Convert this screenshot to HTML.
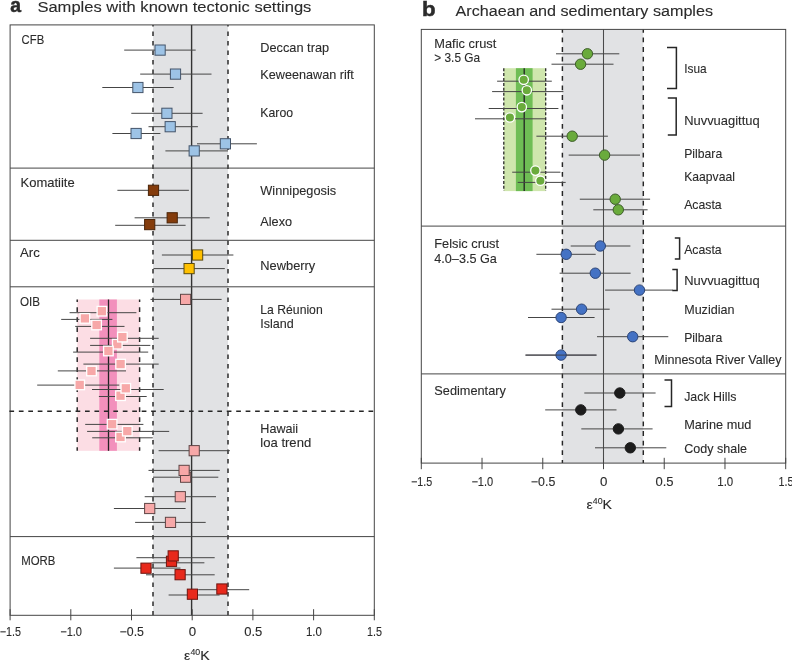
<!DOCTYPE html>
<html lang="en"><head><meta charset="utf-8"><title>Figure</title>
<style>
html,body{margin:0;padding:0;background:#fff;}
body{width:792px;height:661px;overflow:hidden;}
svg{display:block;font-family:"Liberation Sans",sans-serif;fill:#2b2b2b;}
</style></head><body>
<svg width="792" height="661" viewBox="0 0 792 661">
<rect width="792" height="661" fill="#ffffff"/>
<rect x="153" y="24.9" width="75" height="590.4" fill="#e1e2e4"/>
<rect x="77.2" y="299.5" width="62.4" height="151.3" fill="#fcdde4"/>
<rect x="99.3" y="299.5" width="17.6" height="151.3" fill="#f290bc"/>
<line x1="108.5" y1="299.5" x2="108.5" y2="450.8" stroke="#222" stroke-width="1.3"/>
<line x1="77.2" y1="299.5" x2="77.2" y2="450.8" stroke="#262626" stroke-width="1.45" stroke-dasharray="4.7 5.3" stroke-dashoffset="2.3"/>
<line x1="139.6" y1="299.5" x2="139.6" y2="450.8" stroke="#262626" stroke-width="1.45" stroke-dasharray="4.7 5.3" stroke-dashoffset="2.3"/>
<line x1="153" y1="24.9" x2="153" y2="615.3" stroke="#262626" stroke-width="1.45" stroke-dasharray="4.7 4.8" stroke-dashoffset="3"/>
<line x1="228" y1="24.9" x2="228" y2="615.3" stroke="#262626" stroke-width="1.45" stroke-dasharray="4.7 4.8" stroke-dashoffset="3"/>
<line x1="191.6" y1="24.9" x2="191.6" y2="615.3" stroke="#333" stroke-width="1.4"/>
<rect x="10.1" y="24.9" width="364.2" height="590.4" fill="none" stroke="#454545" stroke-width="1"/>
<line x1="10.1" y1="168.1" x2="374.3" y2="168.1" stroke="#454545" stroke-width="1"/>
<line x1="10.1" y1="240.3" x2="374.3" y2="240.3" stroke="#454545" stroke-width="1"/>
<line x1="10.1" y1="286.8" x2="374.3" y2="286.8" stroke="#454545" stroke-width="1"/>
<line x1="10.1" y1="536.6" x2="374.3" y2="536.6" stroke="#454545" stroke-width="1"/>
<line x1="9.4" y1="411.3" x2="374.3" y2="411.3" stroke="#262626" stroke-width="1.45" stroke-dasharray="4.7 4.75"/>
<line x1="10.1" y1="609.2" x2="10.1" y2="620.3" stroke="#454545" stroke-width="1"/>
<text x="-0.2" y="636.2" font-size="12.2" text-anchor="start" stroke="#2b2b2b" stroke-width="0.1" textLength="21.2" lengthAdjust="spacingAndGlyphs">−1.5</text>
<line x1="70.8" y1="609.2" x2="70.8" y2="620.3" stroke="#454545" stroke-width="1"/>
<text x="60.2" y="636.2" font-size="12.2" text-anchor="start" stroke="#2b2b2b" stroke-width="0.1" textLength="21.8" lengthAdjust="spacingAndGlyphs">−1.0</text>
<line x1="131.5" y1="609.2" x2="131.5" y2="620.3" stroke="#454545" stroke-width="1"/>
<text x="119.6" y="636.2" font-size="12.2" text-anchor="start" stroke="#2b2b2b" stroke-width="0.1" textLength="24.4" lengthAdjust="spacingAndGlyphs">−0.5</text>
<line x1="192.2" y1="609.2" x2="192.2" y2="620.3" stroke="#454545" stroke-width="1"/>
<text x="188.8" y="636.2" font-size="12.2" text-anchor="start" stroke="#2b2b2b" stroke-width="0.1" textLength="7.4" lengthAdjust="spacingAndGlyphs">0</text>
<line x1="252.9" y1="609.2" x2="252.9" y2="620.3" stroke="#454545" stroke-width="1"/>
<text x="244.15" y="636.2" font-size="12.2" text-anchor="start" stroke="#2b2b2b" stroke-width="0.1" textLength="18.1" lengthAdjust="spacingAndGlyphs">0.5</text>
<line x1="313.6" y1="609.2" x2="313.6" y2="620.3" stroke="#454545" stroke-width="1"/>
<text x="305.9" y="636.2" font-size="12.2" text-anchor="start" stroke="#2b2b2b" stroke-width="0.1" textLength="16" lengthAdjust="spacingAndGlyphs">1.0</text>
<line x1="374.3" y1="609.2" x2="374.3" y2="620.3" stroke="#454545" stroke-width="1"/>
<text x="367.1" y="636.2" font-size="12.2" text-anchor="start" stroke="#2b2b2b" stroke-width="0.1" textLength="15" lengthAdjust="spacingAndGlyphs">1.5</text>
<text x="184.1" y="659.7" font-size="13.2" text-anchor="start" stroke="#2b2b2b" stroke-width="0.1" textLength="25.6" lengthAdjust="spacingAndGlyphs">ε<tspan font-size="8.2" dy="-4.3">40</tspan><tspan dy="4.3">K</tspan></text>
<line x1="124.2" y1="50.1" x2="195.7" y2="50.1" stroke="#454545" stroke-width="1.0"/>
<line x1="140.2" y1="74.1" x2="211.5" y2="74.1" stroke="#454545" stroke-width="1.0"/>
<line x1="102.3" y1="87.5" x2="173.7" y2="87.5" stroke="#454545" stroke-width="1.0"/>
<line x1="131.3" y1="113.3" x2="202.6" y2="113.3" stroke="#454545" stroke-width="1.0"/>
<line x1="148.5" y1="126.7" x2="197.9" y2="126.7" stroke="#454545" stroke-width="1.0"/>
<line x1="112.4" y1="133.5" x2="160.4" y2="133.5" stroke="#454545" stroke-width="1.0"/>
<line x1="197" y1="143.8" x2="256.9" y2="143.8" stroke="#454545" stroke-width="1.0"/>
<line x1="165.4" y1="150.9" x2="228" y2="150.9" stroke="#454545" stroke-width="1.0"/>
<rect x="155" y="45" width="10.2" height="10.2" fill="#9dc3e6" stroke="#44546a" stroke-width="1.0"/>
<rect x="170.4" y="69" width="10.2" height="10.2" fill="#9dc3e6" stroke="#44546a" stroke-width="1.0"/>
<rect x="132.8" y="82.4" width="10.2" height="10.2" fill="#9dc3e6" stroke="#44546a" stroke-width="1.0"/>
<rect x="161.8" y="108.2" width="10.2" height="10.2" fill="#9dc3e6" stroke="#44546a" stroke-width="1.0"/>
<rect x="165.1" y="121.6" width="10.2" height="10.2" fill="#9dc3e6" stroke="#44546a" stroke-width="1.0"/>
<rect x="131" y="128.4" width="10.2" height="10.2" fill="#9dc3e6" stroke="#44546a" stroke-width="1.0"/>
<rect x="220.3" y="138.7" width="10.2" height="10.2" fill="#9dc3e6" stroke="#44546a" stroke-width="1.0"/>
<rect x="189.1" y="145.8" width="10.2" height="10.2" fill="#9dc3e6" stroke="#44546a" stroke-width="1.0"/>
<line x1="117.4" y1="190.3" x2="188.9" y2="190.3" stroke="#454545" stroke-width="1.0"/>
<line x1="134.6" y1="217.8" x2="209.7" y2="217.8" stroke="#454545" stroke-width="1.0"/>
<line x1="115.2" y1="225.3" x2="185.6" y2="225.3" stroke="#454545" stroke-width="1.0"/>
<rect x="148.4" y="185.2" width="10.2" height="10.2" fill="#843c0c" stroke="#4a2408" stroke-width="1.0"/>
<rect x="167.1" y="212.7" width="10.2" height="10.2" fill="#843c0c" stroke="#4a2408" stroke-width="1.0"/>
<rect x="144.6" y="219.5" width="10.2" height="10.2" fill="#843c0c" stroke="#4a2408" stroke-width="1.0"/>
<line x1="161.9" y1="255" x2="233.4" y2="255" stroke="#454545" stroke-width="1.0"/>
<line x1="153.5" y1="268.6" x2="224.8" y2="268.6" stroke="#454545" stroke-width="1.0"/>
<rect x="192.5" y="249.9" width="10.2" height="10.2" fill="#ffc000" stroke="#5a4a10" stroke-width="1.0"/>
<rect x="184" y="263.5" width="10.2" height="10.2" fill="#ffc000" stroke="#5a4a10" stroke-width="1.0"/>
<line x1="69.6" y1="312.7" x2="136.4" y2="312.7" stroke="#454545" stroke-width="1.0"/>
<line x1="61.2" y1="319.4" x2="112.4" y2="319.4" stroke="#454545" stroke-width="1.0"/>
<line x1="75.2" y1="326.4" x2="124.5" y2="326.4" stroke="#454545" stroke-width="1.0"/>
<line x1="90.1" y1="345.4" x2="150.3" y2="345.4" stroke="#454545" stroke-width="1.0"/>
<line x1="90.1" y1="338.3" x2="158.7" y2="338.3" stroke="#454545" stroke-width="1.0"/>
<line x1="73.1" y1="352.1" x2="148.2" y2="352.1" stroke="#454545" stroke-width="1.0"/>
<line x1="83.4" y1="364.1" x2="158.7" y2="364.1" stroke="#454545" stroke-width="1.0"/>
<line x1="57.8" y1="370.9" x2="126" y2="370.9" stroke="#454545" stroke-width="1.0"/>
<line x1="37.2" y1="385.1" x2="119.3" y2="385.1" stroke="#454545" stroke-width="1.0"/>
<line x1="98.9" y1="396.5" x2="146.7" y2="396.5" stroke="#454545" stroke-width="1.0"/>
<line x1="92" y1="389.5" x2="163.7" y2="389.5" stroke="#454545" stroke-width="1.0"/>
<line x1="85.2" y1="424.4" x2="143.4" y2="424.4" stroke="#454545" stroke-width="1.0"/>
<line x1="92.2" y1="437.8" x2="152.8" y2="437.8" stroke="#454545" stroke-width="1.0"/>
<line x1="87.1" y1="431.4" x2="169.2" y2="431.4" stroke="#454545" stroke-width="1.0"/>
<rect x="97.1" y="306.4" width="9.6" height="9.6" fill="#f7a8a8" stroke="#ffffff" stroke-width="1.3"/>
<rect x="80.1" y="313.6" width="9.6" height="9.6" fill="#f7a8a8" stroke="#ffffff" stroke-width="1.3"/>
<rect x="91.8" y="320.2" width="9.6" height="9.6" fill="#f7a8a8" stroke="#ffffff" stroke-width="1.3"/>
<rect x="112.5" y="339.4" width="9.6" height="9.6" fill="#f7a8a8" stroke="#ffffff" stroke-width="1.3"/>
<rect x="117.6" y="332.3" width="9.6" height="9.6" fill="#f7a8a8" stroke="#ffffff" stroke-width="1.3"/>
<rect x="103.6" y="346.2" width="9.6" height="9.6" fill="#f7a8a8" stroke="#ffffff" stroke-width="1.3"/>
<rect x="115.8" y="359.3" width="9.6" height="9.6" fill="#f7a8a8" stroke="#ffffff" stroke-width="1.3"/>
<rect x="86.7" y="366.2" width="9.6" height="9.6" fill="#f7a8a8" stroke="#ffffff" stroke-width="1.3"/>
<rect x="74.9" y="380.1" width="9.6" height="9.6" fill="#f7a8a8" stroke="#ffffff" stroke-width="1.3"/>
<rect x="115.7" y="390.9" width="9.6" height="9.6" fill="#f7a8a8" stroke="#ffffff" stroke-width="1.3"/>
<rect x="121" y="383.5" width="9.6" height="9.6" fill="#f7a8a8" stroke="#ffffff" stroke-width="1.3"/>
<rect x="107.3" y="419.4" width="9.6" height="9.6" fill="#f7a8a8" stroke="#ffffff" stroke-width="1.3"/>
<rect x="115.7" y="432.2" width="9.6" height="9.6" fill="#f7a8a8" stroke="#ffffff" stroke-width="1.3"/>
<rect x="122.5" y="426.3" width="9.6" height="9.6" fill="#f7a8a8" stroke="#ffffff" stroke-width="1.3"/>
<line x1="150.5" y1="299.4" x2="221.6" y2="299.4" stroke="#454545" stroke-width="1.0"/>
<line x1="158.6" y1="450.7" x2="229.9" y2="450.7" stroke="#454545" stroke-width="1.0"/>
<line x1="153" y1="477.2" x2="218.3" y2="477.2" stroke="#454545" stroke-width="1.0"/>
<line x1="148.5" y1="470.4" x2="219.8" y2="470.4" stroke="#454545" stroke-width="1.0"/>
<line x1="144.7" y1="496.7" x2="216" y2="496.7" stroke="#454545" stroke-width="1.0"/>
<line x1="113.9" y1="508.5" x2="185.6" y2="508.5" stroke="#454545" stroke-width="1.0"/>
<line x1="135.1" y1="522.4" x2="205.7" y2="522.4" stroke="#454545" stroke-width="1.0"/>
<rect x="180.5" y="294.3" width="10.2" height="10.2" fill="#f7a8a8" stroke="#5e4545" stroke-width="1.0"/>
<rect x="189.1" y="445.6" width="10.2" height="10.2" fill="#f7a8a8" stroke="#5e4545" stroke-width="1.0"/>
<rect x="180.5" y="472.1" width="10.2" height="10.2" fill="#f7a8a8" stroke="#5e4545" stroke-width="1.0"/>
<rect x="179" y="465.3" width="10.2" height="10.2" fill="#f7a8a8" stroke="#5e4545" stroke-width="1.0"/>
<rect x="175.2" y="491.6" width="10.2" height="10.2" fill="#f7a8a8" stroke="#5e4545" stroke-width="1.0"/>
<rect x="144.6" y="503.4" width="10.2" height="10.2" fill="#f7a8a8" stroke="#5e4545" stroke-width="1.0"/>
<rect x="165.4" y="517.3" width="10.2" height="10.2" fill="#f7a8a8" stroke="#5e4545" stroke-width="1.0"/>
<line x1="151.5" y1="562.8" x2="204.4" y2="562.8" stroke="#454545" stroke-width="1.0"/>
<line x1="136.4" y1="557.7" x2="214.7" y2="557.7" stroke="#454545" stroke-width="1.0"/>
<line x1="113.9" y1="568.1" x2="180.5" y2="568.1" stroke="#454545" stroke-width="1.0"/>
<line x1="146" y1="574.8" x2="214.7" y2="574.8" stroke="#454545" stroke-width="1.0"/>
<line x1="198.2" y1="589.7" x2="249.2" y2="589.7" stroke="#454545" stroke-width="1.0"/>
<line x1="168.6" y1="595" x2="219.6" y2="595" stroke="#454545" stroke-width="1.0"/>
<rect x="166.4" y="556.2" width="10.2" height="10.2" fill="#e8291c" stroke="#6e1510" stroke-width="1.0"/>
<rect x="168.1" y="550.8" width="10.2" height="10.2" fill="#e8291c" stroke="#6e1510" stroke-width="1.0"/>
<rect x="140.9" y="563.1" width="10.2" height="10.2" fill="#e8291c" stroke="#6e1510" stroke-width="1.0"/>
<rect x="175" y="569.6" width="10.2" height="10.2" fill="#e8291c" stroke="#6e1510" stroke-width="1.0"/>
<rect x="216.8" y="583.9" width="10.2" height="10.2" fill="#e8291c" stroke="#6e1510" stroke-width="1.0"/>
<rect x="187.3" y="589.1" width="10.2" height="10.2" fill="#e8291c" stroke="#6e1510" stroke-width="1.0"/>
<text x="10.2" y="12.3" font-size="20.5" text-anchor="start" font-weight="bold" stroke="#2b2b2b" stroke-width="0.5" textLength="10.8" lengthAdjust="spacingAndGlyphs">a</text>
<text x="37.4" y="12.3" font-size="15.2" text-anchor="start" stroke="#2b2b2b" stroke-width="0.1" textLength="274" lengthAdjust="spacingAndGlyphs">Samples with known tectonic settings</text>
<text x="21.6" y="44.4" font-size="11.9" text-anchor="start" stroke="#2b2b2b" stroke-width="0.1" textLength="22.6" lengthAdjust="spacingAndGlyphs">CFB</text>
<text x="20.5" y="186.8" font-size="11.9" text-anchor="start" stroke="#2b2b2b" stroke-width="0.1" textLength="54.2" lengthAdjust="spacingAndGlyphs">Komatiite</text>
<text x="20" y="257" font-size="11.9" text-anchor="start" stroke="#2b2b2b" stroke-width="0.1" textLength="19.8" lengthAdjust="spacingAndGlyphs">Arc</text>
<text x="20" y="306" font-size="11.9" text-anchor="start" stroke="#2b2b2b" stroke-width="0.1" textLength="20.1" lengthAdjust="spacingAndGlyphs">OIB</text>
<text x="21.2" y="565.4" font-size="11.9" text-anchor="start" stroke="#2b2b2b" stroke-width="0.1" textLength="34.2" lengthAdjust="spacingAndGlyphs">MORB</text>
<text x="260.3" y="51.5" font-size="11.9" text-anchor="start" stroke="#2b2b2b" stroke-width="0.1" textLength="68.8" lengthAdjust="spacingAndGlyphs">Deccan trap</text>
<text x="260.3" y="79" font-size="11.9" text-anchor="start" stroke="#2b2b2b" stroke-width="0.1" textLength="93.5" lengthAdjust="spacingAndGlyphs">Keweenawan rift</text>
<text x="260.3" y="117" font-size="11.9" text-anchor="start" stroke="#2b2b2b" stroke-width="0.1" textLength="32.8" lengthAdjust="spacingAndGlyphs">Karoo</text>
<text x="260.3" y="194.6" font-size="11.9" text-anchor="start" stroke="#2b2b2b" stroke-width="0.1" textLength="75.8" lengthAdjust="spacingAndGlyphs">Winnipegosis</text>
<text x="260.3" y="226" font-size="11.9" text-anchor="start" stroke="#2b2b2b" stroke-width="0.1" textLength="31.8" lengthAdjust="spacingAndGlyphs">Alexo</text>
<text x="260.3" y="269.7" font-size="11.9" text-anchor="start" stroke="#2b2b2b" stroke-width="0.1" textLength="55" lengthAdjust="spacingAndGlyphs">Newberry</text>
<text x="260.3" y="313.5" font-size="11.9" text-anchor="start" stroke="#2b2b2b" stroke-width="0.1" textLength="62.4" lengthAdjust="spacingAndGlyphs">La Réunion</text>
<text x="260.3" y="328.3" font-size="11.9" text-anchor="start" stroke="#2b2b2b" stroke-width="0.1" textLength="33.4" lengthAdjust="spacingAndGlyphs">Island</text>
<text x="260.3" y="432.8" font-size="11.9" text-anchor="start" stroke="#2b2b2b" stroke-width="0.1" textLength="37.8" lengthAdjust="spacingAndGlyphs">Hawaii</text>
<text x="260.3" y="447.2" font-size="11.9" text-anchor="start" stroke="#2b2b2b" stroke-width="0.1" textLength="50.9" lengthAdjust="spacingAndGlyphs">loa trend</text>
<rect x="562.4" y="29.4" width="80.9" height="433.7" fill="#e1e2e4"/>
<rect x="503.8" y="68.2" width="41.9" height="122.9" fill="#cfe6ad"/>
<rect x="515.9" y="68.2" width="16.7" height="122.9" fill="#6fbd55"/>
<line x1="524.2" y1="68.2" x2="524.2" y2="191.1" stroke="#222" stroke-width="1.3"/>
<line x1="503.8" y1="68.2" x2="503.8" y2="191.1" stroke="#222" stroke-width="1.25" stroke-dasharray="3 1.9"/>
<line x1="545.7" y1="68.2" x2="545.7" y2="191.1" stroke="#222" stroke-width="1.25" stroke-dasharray="3 1.9"/>
<line x1="562.4" y1="29.4" x2="562.4" y2="463.1" stroke="#262626" stroke-width="1.45" stroke-dasharray="4.8 4.8" stroke-dashoffset="1.5"/>
<line x1="643.3" y1="29.4" x2="643.3" y2="463.1" stroke="#262626" stroke-width="1.45" stroke-dasharray="4.8 4.8" stroke-dashoffset="1.5"/>
<line x1="603.5" y1="29.4" x2="603.5" y2="463.1" stroke="#4a4a4a" stroke-width="1.05"/>
<rect x="421.3" y="29.4" width="364.4" height="433.7" fill="none" stroke="#454545" stroke-width="1"/>
<line x1="421.3" y1="226.1" x2="785.7" y2="226.1" stroke="#454545" stroke-width="1"/>
<line x1="421.3" y1="373.9" x2="785.7" y2="373.9" stroke="#454545" stroke-width="1"/>
<line x1="421.3" y1="457.8" x2="421.3" y2="469.2" stroke="#454545" stroke-width="1"/>
<text x="411" y="486.2" font-size="12.2" text-anchor="start" stroke="#2b2b2b" stroke-width="0.1" textLength="21.2" lengthAdjust="spacingAndGlyphs">−1.5</text>
<line x1="482.03" y1="457.8" x2="482.03" y2="469.2" stroke="#454545" stroke-width="1"/>
<text x="471.43" y="486.2" font-size="12.2" text-anchor="start" stroke="#2b2b2b" stroke-width="0.1" textLength="21.8" lengthAdjust="spacingAndGlyphs">−1.0</text>
<line x1="542.77" y1="457.8" x2="542.77" y2="469.2" stroke="#454545" stroke-width="1"/>
<text x="530.87" y="486.2" font-size="12.2" text-anchor="start" stroke="#2b2b2b" stroke-width="0.1" textLength="24.4" lengthAdjust="spacingAndGlyphs">−0.5</text>
<line x1="603.5" y1="457.8" x2="603.5" y2="469.2" stroke="#454545" stroke-width="1"/>
<text x="600.1" y="486.2" font-size="12.2" text-anchor="start" stroke="#2b2b2b" stroke-width="0.1" textLength="7.4" lengthAdjust="spacingAndGlyphs">0</text>
<line x1="664.23" y1="457.8" x2="664.23" y2="469.2" stroke="#454545" stroke-width="1"/>
<text x="655.48" y="486.2" font-size="12.2" text-anchor="start" stroke="#2b2b2b" stroke-width="0.1" textLength="18.1" lengthAdjust="spacingAndGlyphs">0.5</text>
<line x1="724.97" y1="457.8" x2="724.97" y2="469.2" stroke="#454545" stroke-width="1"/>
<text x="717.27" y="486.2" font-size="12.2" text-anchor="start" stroke="#2b2b2b" stroke-width="0.1" textLength="16" lengthAdjust="spacingAndGlyphs">1.0</text>
<line x1="785.7" y1="457.8" x2="785.7" y2="469.2" stroke="#454545" stroke-width="1"/>
<text x="778.5" y="486.2" font-size="12.2" text-anchor="start" stroke="#2b2b2b" stroke-width="0.1" textLength="15" lengthAdjust="spacingAndGlyphs">1.5</text>
<text x="586.5" y="508.5" font-size="13.2" text-anchor="start" stroke="#2b2b2b" stroke-width="0.1" textLength="25.6" lengthAdjust="spacingAndGlyphs">ε<tspan font-size="8.2" dy="-4.3">40</tspan><tspan dy="4.3">K</tspan></text>
<line x1="556" y1="53.8" x2="619.3" y2="53.8" stroke="#454545" stroke-width="1.0"/>
<line x1="551.5" y1="64.2" x2="613.5" y2="64.2" stroke="#454545" stroke-width="1.0"/>
<line x1="536.4" y1="136.2" x2="607.9" y2="136.2" stroke="#454545" stroke-width="1.0"/>
<line x1="568.7" y1="155.1" x2="640" y2="155.1" stroke="#454545" stroke-width="1.0"/>
<line x1="579.8" y1="199.2" x2="650.1" y2="199.2" stroke="#454545" stroke-width="1.0"/>
<line x1="593.3" y1="209.8" x2="647.6" y2="209.8" stroke="#454545" stroke-width="1.0"/>
<line x1="497.1" y1="81.2" x2="551.8" y2="81.2" stroke="#454545" stroke-width="1.0"/>
<line x1="492.1" y1="91.6" x2="563.4" y2="91.6" stroke="#454545" stroke-width="1.0"/>
<line x1="488.7" y1="108.5" x2="558.4" y2="108.5" stroke="#454545" stroke-width="1.0"/>
<line x1="475" y1="118.8" x2="545.5" y2="118.8" stroke="#454545" stroke-width="1.0"/>
<line x1="512.2" y1="172.2" x2="560.4" y2="172.2" stroke="#454545" stroke-width="1.0"/>
<line x1="517.7" y1="182.4" x2="565.7" y2="182.4" stroke="#454545" stroke-width="1.0"/>
<circle cx="587.4" cy="53.8" r="5.2" fill="#6aab3c" stroke="#3d5c2a" stroke-width="1.0"/>
<circle cx="580.6" cy="64.2" r="5.2" fill="#6aab3c" stroke="#3d5c2a" stroke-width="1.0"/>
<circle cx="572.2" cy="136.2" r="5.2" fill="#6aab3c" stroke="#3d5c2a" stroke-width="1.0"/>
<circle cx="604.6" cy="155.1" r="5.2" fill="#6aab3c" stroke="#3d5c2a" stroke-width="1.0"/>
<circle cx="615.2" cy="199.2" r="5.2" fill="#6aab3c" stroke="#3d5c2a" stroke-width="1.0"/>
<circle cx="618.3" cy="209.8" r="5.2" fill="#6aab3c" stroke="#3d5c2a" stroke-width="1.0"/>
<circle cx="523.7" cy="79.8" r="4.7" fill="#6aab3c" stroke="#ffffff" stroke-width="1.3"/>
<circle cx="526.8" cy="90.3" r="4.7" fill="#6aab3c" stroke="#ffffff" stroke-width="1.3"/>
<circle cx="521.8" cy="107.1" r="4.7" fill="#6aab3c" stroke="#ffffff" stroke-width="1.3"/>
<circle cx="509.9" cy="117.5" r="4.7" fill="#6aab3c" stroke="#ffffff" stroke-width="1.3"/>
<circle cx="535.4" cy="170.6" r="4.7" fill="#6aab3c" stroke="#ffffff" stroke-width="1.3"/>
<circle cx="540.4" cy="180.7" r="4.7" fill="#6aab3c" stroke="#ffffff" stroke-width="1.3"/>
<line x1="570.7" y1="246" x2="630.4" y2="246" stroke="#454545" stroke-width="1.0"/>
<line x1="536.4" y1="254.3" x2="595.7" y2="254.3" stroke="#454545" stroke-width="1.0"/>
<line x1="559.6" y1="273.2" x2="630.6" y2="273.2" stroke="#454545" stroke-width="1.0"/>
<line x1="605.1" y1="290.1" x2="672.8" y2="290.1" stroke="#454545" stroke-width="1.0"/>
<line x1="551.5" y1="309.2" x2="609.7" y2="309.2" stroke="#454545" stroke-width="1.0"/>
<line x1="528" y1="317.5" x2="594.6" y2="317.5" stroke="#454545" stroke-width="1.0"/>
<line x1="597" y1="336.7" x2="668.3" y2="336.7" stroke="#454545" stroke-width="1.0"/>
<line x1="525.5" y1="355.1" x2="596.5" y2="355.1" stroke="#454545" stroke-width="1.0"/>
<circle cx="600.3" cy="246" r="5.2" fill="#4472c4" stroke="#2c4577" stroke-width="1.0"/>
<circle cx="566.2" cy="254.3" r="5.2" fill="#4472c4" stroke="#2c4577" stroke-width="1.0"/>
<circle cx="595.3" cy="273.2" r="5.2" fill="#4472c4" stroke="#2c4577" stroke-width="1.0"/>
<circle cx="639.5" cy="290.1" r="5.2" fill="#4472c4" stroke="#2c4577" stroke-width="1.0"/>
<circle cx="581.6" cy="309.2" r="5.2" fill="#4472c4" stroke="#2c4577" stroke-width="1.0"/>
<circle cx="561.1" cy="317.5" r="5.2" fill="#4472c4" stroke="#2c4577" stroke-width="1.0"/>
<circle cx="632.7" cy="336.7" r="5.2" fill="#4472c4" stroke="#2c4577" stroke-width="1.0"/>
<circle cx="561.1" cy="355.1" r="5.2" fill="#4472c4" stroke="#2c4577" stroke-width="1.0"/>
<line x1="525.5" y1="355.1" x2="596.5" y2="355.1" stroke="#3c3c46" stroke-width="0.9"/>
<line x1="584.3" y1="393" x2="655.6" y2="393" stroke="#454545" stroke-width="1.0"/>
<line x1="545.2" y1="409.9" x2="616.5" y2="409.9" stroke="#454545" stroke-width="1.0"/>
<line x1="581.3" y1="428.9" x2="652.6" y2="428.9" stroke="#454545" stroke-width="1.0"/>
<line x1="595" y1="447.8" x2="666.3" y2="447.8" stroke="#454545" stroke-width="1.0"/>
<circle cx="619.8" cy="393" r="5.2" fill="#1c1c1c" stroke="#1c1c1c" stroke-width="1.0"/>
<circle cx="580.8" cy="409.9" r="5.2" fill="#1c1c1c" stroke="#1c1c1c" stroke-width="1.0"/>
<circle cx="618.4" cy="428.9" r="5.2" fill="#1c1c1c" stroke="#1c1c1c" stroke-width="1.0"/>
<circle cx="630.3" cy="447.8" r="5.2" fill="#1c1c1c" stroke="#1c1c1c" stroke-width="1.0"/>
<path d="M667 47.5H676.4V88.4H667" fill="none" stroke="#262626" stroke-width="1.5"/>
<path d="M667.8 98H676.2V135.1H667.8" fill="none" stroke="#262626" stroke-width="1.5"/>
<path d="M674.8 238.1H679.6V259H674.8" fill="none" stroke="#262626" stroke-width="1.5"/>
<path d="M672.3 269.6H677.1V290.4H672.3" fill="none" stroke="#262626" stroke-width="1.5"/>
<path d="M664.5 380.1H671.5V406.4H664.5" fill="none" stroke="#262626" stroke-width="1.5"/>
<text x="421.9" y="15.8" font-size="20.5" text-anchor="start" font-weight="bold" stroke="#2b2b2b" stroke-width="0.5" textLength="13.6" lengthAdjust="spacingAndGlyphs">b</text>
<text x="455.6" y="15.8" font-size="15.2" text-anchor="start" stroke="#2b2b2b" stroke-width="0.1" textLength="257.4" lengthAdjust="spacingAndGlyphs">Archaean and sedimentary samples</text>
<text x="434.3" y="48.1" font-size="11.9" text-anchor="start" stroke="#2b2b2b" stroke-width="0.1" textLength="62" lengthAdjust="spacingAndGlyphs">Mafic crust</text>
<text x="434.3" y="62" font-size="11.9" text-anchor="start" stroke="#2b2b2b" stroke-width="0.1" textLength="45.8" lengthAdjust="spacingAndGlyphs">&gt; 3.5 Ga</text>
<text x="434.3" y="247.5" font-size="11.9" text-anchor="start" stroke="#2b2b2b" stroke-width="0.1" textLength="64.8" lengthAdjust="spacingAndGlyphs">Felsic crust</text>
<text x="434.3" y="262.7" font-size="11.9" text-anchor="start" stroke="#2b2b2b" stroke-width="0.1" textLength="62.5" lengthAdjust="spacingAndGlyphs">4.0–3.5 Ga</text>
<text x="434.3" y="394.6" font-size="11.9" text-anchor="start" stroke="#2b2b2b" stroke-width="0.1" textLength="71.6" lengthAdjust="spacingAndGlyphs">Sedimentary</text>
<text x="684.2" y="72.8" font-size="11.9" text-anchor="start" stroke="#2b2b2b" stroke-width="0.1" textLength="22.4" lengthAdjust="spacingAndGlyphs">Isua</text>
<text x="684.2" y="125.1" font-size="11.9" text-anchor="start" stroke="#2b2b2b" stroke-width="0.1" textLength="75.4" lengthAdjust="spacingAndGlyphs">Nuvvuagittuq</text>
<text x="684.2" y="157.9" font-size="11.9" text-anchor="start" stroke="#2b2b2b" stroke-width="0.1" textLength="38" lengthAdjust="spacingAndGlyphs">Pilbara</text>
<text x="684.2" y="180.6" font-size="11.9" text-anchor="start" stroke="#2b2b2b" stroke-width="0.1" textLength="50.7" lengthAdjust="spacingAndGlyphs">Kaapvaal</text>
<text x="684.2" y="209.1" font-size="11.9" text-anchor="start" stroke="#2b2b2b" stroke-width="0.1" textLength="37.5" lengthAdjust="spacingAndGlyphs">Acasta</text>
<text x="684.2" y="254.3" font-size="11.9" text-anchor="start" stroke="#2b2b2b" stroke-width="0.1" textLength="37.5" lengthAdjust="spacingAndGlyphs">Acasta</text>
<text x="684.2" y="284.7" font-size="11.9" text-anchor="start" stroke="#2b2b2b" stroke-width="0.1" textLength="75.4" lengthAdjust="spacingAndGlyphs">Nuvvuagittuq</text>
<text x="684.2" y="313.5" font-size="11.9" text-anchor="start" stroke="#2b2b2b" stroke-width="0.1" textLength="50.2" lengthAdjust="spacingAndGlyphs">Muzidian</text>
<text x="684.2" y="341.6" font-size="11.9" text-anchor="start" stroke="#2b2b2b" stroke-width="0.1" textLength="38" lengthAdjust="spacingAndGlyphs">Pilbara</text>
<text x="684.2" y="400.9" font-size="11.9" text-anchor="start" stroke="#2b2b2b" stroke-width="0.1" textLength="52.2" lengthAdjust="spacingAndGlyphs">Jack Hills</text>
<text x="684.2" y="428.6" font-size="11.9" text-anchor="start" stroke="#2b2b2b" stroke-width="0.1" textLength="67.2" lengthAdjust="spacingAndGlyphs">Marine mud</text>
<text x="684.2" y="452.8" font-size="11.9" text-anchor="start" stroke="#2b2b2b" stroke-width="0.1" textLength="62.8" lengthAdjust="spacingAndGlyphs">Cody shale</text>
<text x="654.2" y="364.1" font-size="11.9" text-anchor="start" stroke="#2b2b2b" stroke-width="0.1" textLength="127.4" lengthAdjust="spacingAndGlyphs">Minnesota River Valley</text>
</svg>
</body></html>
